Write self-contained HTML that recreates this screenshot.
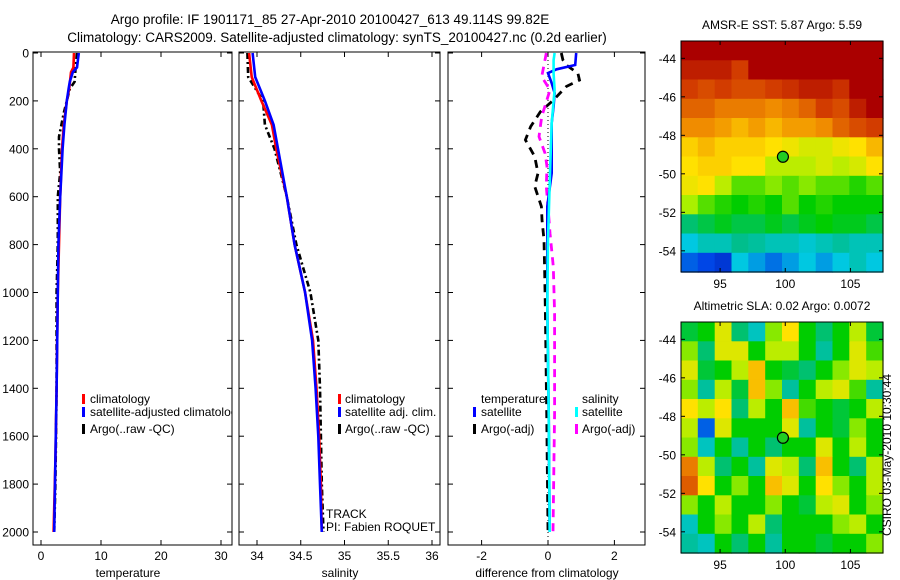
<!DOCTYPE html>
<html><head><meta charset="utf-8">
<style>
html,body{margin:0;padding:0;background:#fff;}
svg{display:block;font-family:"Liberation Sans",sans-serif;}
</style></head>
<body>
<svg id="chart" width="900" height="580" viewBox="0 0 900 580" xmlns="http://www.w3.org/2000/svg">
<defs>
<clipPath id="c1"><rect x="33" y="52" width="199" height="493"/></clipPath>
<clipPath id="c2"><rect x="239" y="52" width="201" height="493"/></clipPath>
<clipPath id="c3"><rect x="448" y="52" width="197" height="493"/></clipPath>
</defs>
<text x="330" y="24" font-size="13.5" text-anchor="middle">Argo profile: IF 1901171_85 27-Apr-2010 20100427_613 49.114S 99.82E</text>
<text x="337" y="42" font-size="13.5" text-anchor="middle">Climatology: CARS2009. Satellite-adjusted climatology: synTS_20100427.nc (0.2d earlier)</text>
<g id="g"></g>
</svg>
<script>
// ---------- profile data ----------
const tempClimDepth = [0,60,80,150,200,300,400,600,800,1000,1400,1700,2000];
const tempClim      = [5.5,5.4,5.0,4.7,4.3,3.8,3.5,3.2,3.0,2.8,2.6,2.4,2.1];
const tempSatDepth  = [0,60,80,120,150,200,300,400,500,600,800,1000,1400,1700,2000];
const tempSat       = [6.3,6.0,5.3,4.8,4.6,4.3,3.9,3.6,3.4,3.2,2.9,2.8,2.6,2.4,2.2];
const tempArgoDepth = [0,50,120,150,250,350,400,500,600,800,1000,1400,1800,2000];
const tempArgo      = [6.0,5.8,5.6,4.8,3.8,3.0,3.0,3.2,2.8,2.8,2.6,2.6,2.4,2.2];

const salDepth  = [0,100,200,300,400,600,800,1000,1200,1400,1600,1800,2000];
const salClim   = [33.91,33.94,34.05,34.17,34.22,34.34,34.43,34.55,34.64,34.68,34.71,34.73,34.74];
const salSat    = [33.95,33.98,34.09,34.19,34.24,34.34,34.43,34.55,34.63,34.67,34.70,34.72,34.74];
const salArgo   = [33.89,33.90,34.07,34.09,34.20,34.34,34.45,34.61,34.70,34.72,34.73,34.74,34.76];

const dTSatDepth = [0,50,68,84,126,167,223,292,501,640,1058,1500,2000];
const dTSat      = [0.85,0.82,0.26,0.0,0.11,0.2,0.17,0.11,0.11,-0.02,-0.02,0.02,0.05];
const dSSatDepth = [0,30,85,154,292,501,780,1058,1500,2000];
const dSSat      = [0.2,0.17,0.17,0.2,0.11,0.06,0.0,-0.02,0.02,0.05];
const dSArgoDepth= [0,29,99,154,266,349,418,474,557,641,752,892,1087,1500,2000];
const dSArgo     = [-0.05,-0.09,-0.19,0.06,-0.19,-0.27,-0.09,-0.03,-0.05,0.0,0.06,0.16,0.2,0.2,0.15];
const dTArgoDepth= [0,29,50,85,113,140,196,245,307,363,432,502,557,641,697,780,920,1059,1500,2000];
const dTArgo     = [0.4,0.45,0.55,0.9,0.95,0.55,0.17,-0.23,-0.52,-0.68,-0.4,-0.3,-0.4,-0.2,-0.18,-0.12,-0.1,-0.08,-0.04,0.0];

const depthTicks = [0,200,400,600,800,1000,1200,1400,1600,1800,2000];
const tempTicks = [0,10,20,30];
const salTicks = [34,34.5,35,35.5,36];
const salTickLabels = ["34","34.5","35","35.5","36"];
const diffTicks = [-2,0,2];

// ---------- map data ----------
const latTicks = [-44,-46,-48,-50,-52,-54];
const lonTicks = [95,100,105];
const sstGrid = [
[1,1,1,1,1,1,1,1,1,1,1,1],
[0.95,0.95,0.95,0.9,1,1,1,1,1,1,1,1],
[0.9,0.88,0.9,0.88,0.88,0.9,0.92,0.95,0.95,0.92,1,1],
[0.85,0.85,0.82,0.82,0.82,0.8,0.82,0.85,0.9,0.88,0.95,1],
[0.8,0.8,0.78,0.75,0.78,0.75,0.78,0.78,0.8,0.85,0.88,0.9],
[0.72,0.75,0.72,0.72,0.72,0.7,0.68,0.65,0.65,0.68,0.7,0.75],
[0.7,0.72,0.72,0.7,0.7,0.62,0.62,0.62,0.65,0.62,0.65,0.7],
[0.68,0.7,0.62,0.55,0.55,0.58,0.55,0.58,0.55,0.55,0.52,0.55],
[0.6,0.55,0.52,0.5,0.52,0.5,0.55,0.5,0.52,0.5,0.5,0.5],
[0.42,0.45,0.48,0.45,0.45,0.48,0.45,0.48,0.5,0.48,0.48,0.45],
[0.3,0.35,0.35,0.4,0.38,0.35,0.35,0.32,0.35,0.38,0.35,0.35],
[0.18,0.15,0.12,0.3,0.25,0.2,0.25,0.3,0.25,0.3,0.35,0.3]];
const slaGrid = [
[-0.1,0,0.4,-0.2,-0.4,0.2,0.5,0,-0.2,0,0.3,-0.1],
[0.2,-0.2,0.4,0.4,0,0.3,0.3,0,-0.3,0,0.4,0.1],
[0.4,-0.1,0,0.3,0.6,0,-0.1,-0.2,0,0.2,0.4,0.3],
[0.2,-0.3,0.3,-0.1,0.6,0.2,-0.3,0,0.3,0.4,0.1,-0.3],
[0.5,0.3,0.5,-0.2,0.3,0,0.6,0.1,0,-0.1,0,0.3],
[0.3,-0.8,0.4,0,0,0,0.4,-0.3,0,-0.1,0.2,0],
[0.2,-0.4,0,-0.3,0,-0.2,0,0,0.4,0,0.3,0],
[0.8,0.3,-0.2,0,-0.3,0.4,0.3,-0.2,0.6,0,-0.2,0.3],
[0.9,0.5,0,0.2,0,0.6,0.4,0,0.5,0.2,0,0.3],
[0.2,0,0.3,0,0,0.2,0,-0.1,0.3,0.4,0,0.2],
[-0.4,0,0.2,0,0.3,-0.2,0,0,0,0.2,0.3,0],
[-0.3,-0.4,0,-0.2,0,-0.3,0,0,-0.1,0,0,0.2]];
const argoLon = 99.82, argoLat = -49.114;

// ---------- drawing ----------
const NS="http://www.w3.org/2000/svg";
const G=document.getElementById('g');
function mk(tag,attrs,parent){const e=document.createElementNS(NS,tag);for(const k in attrs)e.setAttribute(k,attrs[k]);(parent||G).appendChild(e);return e;}
const yD = d => 53 + d*0.2395;
const xT = t => 41 + 6*t;
const xS = s => 257 + 87.5*(s-34);
const xDf = v => 548 + 33.2*v;
const TOP=52, BOT=545;

function panel(x0,x1,xs,xt,xl,name,showY){
  const ax=mk('g',{});
  
  
  mk('rect',{x:x0,y:TOP,width:x1-x0,height:BOT-TOP,fill:'#fff',stroke:'#000','stroke-width':1},ax);
  depthTicks.forEach(d=>{
    mk('line',{x1:x0,x2:x0+5,y1:yD(d),y2:yD(d),stroke:'#000'},ax);
    mk('line',{x1:x1,x2:x1-5,y1:yD(d),y2:yD(d),stroke:'#000'},ax);
    if(showY){const t=mk('text',{x:x0-4,y:yD(d)+4.5,'font-size':12,'text-anchor':'end'},ax);t.textContent=d;
      
      }
  });
  xt.forEach((v,i)=>{
    const X=xs(v);
    mk('line',{x1:X,x2:X,y1:TOP,y2:TOP+5,stroke:'#000'},ax);
    mk('line',{x1:X,x2:X,y1:BOT,y2:BOT-5,stroke:'#000'},ax);
    const t=mk('text',{x:X,y:560,'font-size':12,'text-anchor':'middle'},ax);t.textContent=xl[i];
    
    
  });
}
function line(xs,vals,depths,color,dash,clip,name,w){
  const p=vals.map((v,i)=>(i?'L':'M')+xs(v).toFixed(1)+','+yD(depths[i]).toFixed(1)).join('');
  const e=mk('path',{d:p,fill:'none',stroke:color,'stroke-width':w||2.6,'stroke-dasharray':dash||'none','clip-path':'url(#'+clip+')'});
  
  
}
function txt(x,y,s,name,extra){
  const t=mk('text',Object.assign({x:x,y:y,'font-size':12},extra||{}));t.textContent=s;
  
  
  return t;
}
function legMark(x,y,color){mk('rect',{x:x,y:y-9,width:3,height:10,fill:color});}

// Panel 1 temperature
panel(33,232,xT,tempTicks,tempTicks.map(String),'temperature-panel',true);
line(xT,tempArgo,tempArgoDepth,'#000','6,3,2,3','c1','temp-argo-line',2.6);
line(xT,tempClim,tempClimDepth,'#f00',null,'c1','temp-climatology-line');
line(xT,tempSat,tempSatDepth,'#00f',null,'c1','temp-satellite-line');
txt(128,577,'temperature','temperature-axis-title',{'text-anchor':'middle'});
const lg1=mk('g',{'clip-path':'url(#c1)'});
legMark(82,403,'#f00');legMark(82,416,'#00f');legMark(82,433,'#000');
[['climatology',403],['satellite-adjusted climatology',416],['Argo(..raw -QC)',433]].forEach(a=>{
  const t=mk('text',{x:90,y:a[1],'font-size':12},lg1);t.textContent=a[0];
  
  
});

// Panel 2 salinity
panel(239,440,xS,salTicks,salTickLabels,'salinity-panel',false);
line(xS,salArgo,salDepth,'#000','6,3,2,3','c2','sal-argo-line',2.6);
line(xS,salClim,salDepth,'#f00',null,'c2','sal-climatology-line');
line(xS,salSat,salDepth,'#00f',null,'c2','sal-satellite-line');
txt(340,577,'salinity','salinity-axis-title',{'text-anchor':'middle'});
legMark(338,403,'#f00');legMark(338,416,'#00f');legMark(338,433,'#000');
txt(345,403,'climatology','salinity-legend-climatology');
txt(345,416,'satellite adj. clim.','salinity-legend-satellite');
txt(345,433,'Argo(..raw -QC)','salinity-legend-argo');
txt(326,518,'TRACK','track-label');
txt(326,531,'PI: Fabien ROQUET','pi-label');

// Panel 3 differences
panel(448,645,xDf,diffTicks,['-2','0','2'],'difference-panel',false);
mk('line',{x1:xDf(0),x2:xDf(0),y1:TOP,y2:BOT,stroke:'#000','stroke-dasharray':'1,3'});
line(xDf,dTArgo,dTArgoDepth,'#000','8,6','c3','temp-argo-diff-line',2.8);
line(xDf,dSArgo,dSArgoDepth,'#f0f','8,6','c3','sal-argo-diff-line',2.8);
line(xDf,dTSat,dTSatDepth,'#00f',null,'c3','temp-satellite-diff-line');
line(xDf,dSSat,dSSatDepth,'#0ff',null,'c3','sal-satellite-diff-line');
txt(547,577,'difference from climatology','difference-axis-title',{'text-anchor':'middle'});
txt(481,403,'temperature','diff-legend-temperature-header');
legMark(473,416,'#00f');txt(481,416,'satellite','diff-legend-temp-satellite');
legMark(473,433,'#000');txt(481,433,'Argo(-adj)','diff-legend-temp-argo');
txt(582,403,'salinity','diff-legend-salinity-header');
legMark(575,416,'#0ff');txt(582,416,'satellite','diff-legend-sal-satellite');
legMark(575,433,'#f0f');txt(582,433,'Argo(-adj)','diff-legend-sal-argo');

// ---------- maps ----------
const stops=[[0,[0,0,140]],[0.15,[0,70,230]],[0.3,[0,200,225]],[0.4,[0,190,140]],[0.5,[0,205,0]],[0.6,[170,240,0]],[0.7,[255,225,0]],[0.8,[240,140,0]],[0.9,[210,60,0]],[1,[170,0,0]]];
function cmap(v){v=Math.max(0,Math.min(1,v));for(let i=1;i<stops.length;i++){if(v<=stops[i][0]){const a=stops[i-1],b=stops[i],f=(v-a[0])/(b[0]-a[0]);return 'rgb('+a[1].map((c,k)=>Math.round(c+(b[1][k]-c)*f)).join(',')+')';}}return 'rgb(170,0,0)';}
const MX0=681, MX1=883, LON0=92.0, LON1=107.5;
const xLon = lon => MX0 + (lon-LON0)*(MX1-MX0)/(LON1-LON0);
function drawMap(top,grid,valFn,name,title){
  const mh=231;
  const yLat = lat => top + (-43.1-lat)*mh/12;
  const g=mk('g',{});
  
  
  const rows=grid.length, cols=grid[0].length;
  grid.forEach((row,r)=>row.forEach((v,c)=>{
    const x0=MX0+c*(MX1-MX0)/cols, y0=top+r*mh/rows;
    const cell=mk('rect',{x:x0.toFixed(1),y:y0.toFixed(1),width:((MX1-MX0)/cols+0.6).toFixed(1),height:(mh/rows+0.6).toFixed(1),fill:cmap(valFn(v))},g);
    
    
  }));
  mk('rect',{x:MX0,y:top,width:MX1-MX0,height:mh,fill:'none',stroke:'#000'},g);
  latTicks.forEach(l=>{
    const Y=yLat(l);
    mk('line',{x1:MX0,x2:MX0+4,y1:Y,y2:Y,stroke:'#000'},g);
    mk('line',{x1:MX1,x2:MX1-4,y1:Y,y2:Y,stroke:'#000'},g);
    const t=mk('text',{x:MX0-5,y:Y+4.5,'font-size':12,'text-anchor':'end'},g);t.textContent=l;
    
    
  });
  lonTicks.forEach(l=>{
    const X=xLon(l);
    mk('line',{x1:X,x2:X,y1:top,y2:top+4,stroke:'#000'},g);
    mk('line',{x1:X,x2:X,y1:top+mh,y2:top+mh-4,stroke:'#000'},g);
    const t=mk('text',{x:X,y:top+mh+16,'font-size':12,'text-anchor':'middle'},g);t.textContent=l;
    
    
  });
  const m=mk('circle',{cx:xLon(argoLon),cy:yLat(argoLat),r:5.5,fill:'#2c2',stroke:'#000','stroke-width':1.2},g);
  
  
  txt(782,top-12,title,name+'-title',{'text-anchor':'middle'});
}
drawMap(41,sstGrid,v=>v,'sst-map','AMSR-E SST: 5.87 Argo: 5.59');
drawMap(322,slaGrid,v=>0.5+v*0.4,'sla-map','Altimetric SLA: 0.02 Argo: 0.0072');
txt(0,0,'CSIRO 03-May-2010 10:30:44','timestamp-label',{'text-anchor':'middle',transform:'translate(891,455) rotate(-90)'});
</script>
</body></html>
